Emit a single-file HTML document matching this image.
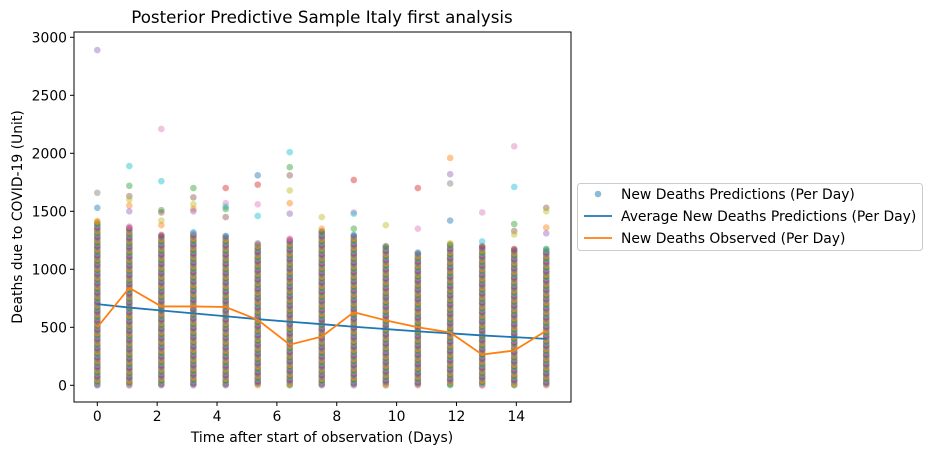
<!DOCTYPE html>
<html><head><meta charset="utf-8"><style>
body{margin:0;background:#fff;font-family:"Liberation Sans","DejaVu Sans",sans-serif}
svg text{font-family:"DejaVu Sans","Liberation Sans",sans-serif;fill:#000}
</style></head><body>
<svg id="chart" width="932" height="455" viewBox="0 0 932 455" xmlns="http://www.w3.org/2000/svg">
<g id="marks"></g>
<g id="axes"></g>
</svg>
<script>
const days=[0,1.07,2.14,3.21,4.29,5.36,6.43,7.5,8.57,9.64,10.71,11.79,12.86,13.93,15];
const avgValues=[700,670,645,620,595,570,548,527,505,485,465,448,430,415,400];
const observedValues=[500,840,680,680,675,565,350,420,630,560,500,455,265,300,470];
const denseTop=[1420,1370,1300,1320,1290,1230,1270,1330,1300,1200,1150,1230,1200,1180,1180];
const outliers=[[2890,1660,1530],[1890,1720,1630,1600,1550,1500],[2210,1760,1510,1490,1420,1380],[1700,1620,1560,1520,1500],[1700,1570,1540,1520,1450],[1810,1730,1560,1460],[2010,1880,1810,1680,1570,1480],[1450,1350],[1770,1490,1480,1350],[1380],[1700,1350],[1960,1820,1740,1420],[1490,1240],[2060,1710,1390,1330,1300],[1530,1500,1360,1310]];
const yTicks=[0,500,1000,1500,2000,2500,3000];
const xTicks=[0,2,4,6,8,10,12,14];
const tab=['#1f77b4','#ff7f0e','#2ca02c','#d62728','#9467bd','#8c564b','#e377c2','#7f7f7f','#bcbd22','#17becf'];
const NS='http://www.w3.org/2000/svg';
const L=74,R=571,T=32,B=402;
const xs=d=>97.3+d*29.93;
const ys=v=>385.3-v*0.116;
function mk(tag,attrs,parent){const e=document.createElementNS(NS,tag);for(const k in attrs)e.setAttribute(k,attrs[k]);parent.appendChild(e);return e;}
const marks=document.getElementById('marks'),axes=document.getElementById('axes');
let ci=0;
days.forEach((d,i)=>{
  const vals=[];
  for(let v=0;v<=denseTop[i];v+=8)vals.push(v);
  outliers[i].forEach(v=>vals.push(v));
  vals.forEach(v=>{
    const c=mk('circle',{cx:xs(d),cy:ys(v),r:3.3,fill:tab[(ci++*3)%10],'fill-opacity':0.45},marks);
    
    
  });
});
const pa=mk('polyline',{points:days.map((d,i)=>xs(d)+','+ys(avgValues[i])).join(' '),fill:'none',stroke:'#1f77b4','stroke-width':1.8},marks);


const po=mk('polyline',{points:days.map((d,i)=>xs(d)+','+ys(observedValues[i])).join(' '),fill:'none',stroke:'#ff7f0e','stroke-width':1.8},marks);


const fr=mk('rect',{x:L,y:T,width:R-L,height:B-T,fill:'none',stroke:'#000','stroke-width':1},axes);


yTicks.forEach(v=>{
  mk('line',{x1:L-4,x2:L,y1:ys(v),y2:ys(v),stroke:'#000'},axes);
  const t=mk('text',{x:L-7,y:ys(v)+5,'text-anchor':'end','font-size':13.9},axes);t.textContent=v;
  
  
});
xTicks.forEach(v=>{
  mk('line',{x1:xs(v),x2:xs(v),y1:B,y2:B+4,stroke:'#000'},axes);
  const t=mk('text',{x:xs(v),y:B+19,'text-anchor':'middle','font-size':13.9},axes);t.textContent=v;
  
  
});
</script>
<svg width="932" height="455" style="position:absolute;left:0;top:0">
<text x="322" y="23" text-anchor="middle" font-size="16.7">Posterior Predictive Sample Italy first analysis</text>
<text x="322" y="442" text-anchor="middle" font-size="13.9">Time after start of observation (Days)</text>
<text transform="translate(22,217) rotate(-90)" text-anchor="middle" font-size="13.9">Deaths due to COVID-19 (Unit)</text>
<g>
<rect x="577.5" y="183.5" width="345" height="67" rx="3" fill="#fff" stroke="#ccc"/>
<circle cx="598" cy="194" r="3.3" fill="#1f77b4" fill-opacity="0.5"/>
<text x="621" y="199" font-size="13.9">New Deaths Predictions (Per Day)</text>
<line x1="584" x2="612" y1="216" y2="216" stroke="#1f77b4" stroke-width="1.8"/>
<text x="621" y="221" font-size="13.9">Average New Deaths Predictions (Per Day)</text>
<line x1="584" x2="612" y1="238" y2="238" stroke="#ff7f0e" stroke-width="1.8"/>
<text x="621" y="243" font-size="13.9">New Deaths Observed (Per Day)</text>
</g>
</svg>
</body></html>
